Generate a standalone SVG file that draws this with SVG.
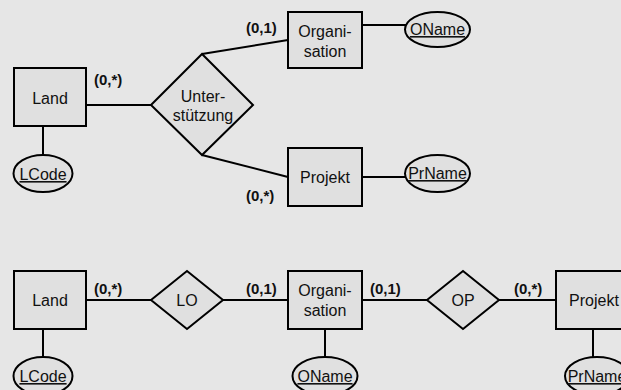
<svg xmlns="http://www.w3.org/2000/svg" width="621" height="390" viewBox="0 0 621 390">
<style>
.shape{fill:#e0e0e0;stroke:#000;stroke-width:2}
.conn line{stroke:#000;stroke-width:2}
text{font-family:"Liberation Sans",Arial,sans-serif;font-size:16px;fill:#111;text-anchor:middle}
.card{font-weight:bold;font-size:15px;text-anchor:start}
.key{text-decoration:underline}
</style>
<rect width="621" height="390" fill="#e6e6e6"/>
<g id="connectors" class="conn">
<line x1="43" y1="126" x2="43" y2="155"/>
<line x1="86" y1="105" x2="151" y2="105"/>
<line x1="202" y1="54" x2="288" y2="40"/>
<line x1="202" y1="155" x2="288" y2="177"/>
<line x1="362" y1="25" x2="406" y2="25"/>
<line x1="362" y1="177" x2="406" y2="177"/>
<line x1="43" y1="329" x2="43" y2="357"/>
<line x1="86" y1="300" x2="151" y2="300"/>
<line x1="223" y1="300" x2="288" y2="300"/>
<line x1="325" y1="329" x2="325" y2="357"/>
<line x1="362" y1="300" x2="427" y2="300"/>
<line x1="499" y1="300" x2="556" y2="300"/>
<line x1="593" y1="329" x2="593" y2="358"/>
</g>
<g id="land1"><rect class="shape" x="14" y="68" width="72" height="58"/><text x="50" y="104">Land</text></g>
<g id="lcode1"><ellipse class="shape" cx="43" cy="173.5" rx="29.5" ry="18.5"/><text class="key" x="43" y="180">LCode</text></g>
<g id="unterstuetzung"><polygon class="shape" points="151,105 202,54 253,105 202,155"/><text x="203" y="102">Unter-</text><text x="203" y="121">stützung</text></g>
<g id="org1"><rect class="shape" x="288" y="12" width="74" height="56"/><text x="325" y="37">Organi-</text><text x="325" y="57">sation</text></g>
<g id="oname1"><ellipse class="shape" cx="437.5" cy="29.5" rx="32.5" ry="17.5"/><text class="key" x="437.5" y="35">OName</text></g>
<g id="projekt1"><rect class="shape" x="288" y="148" width="74" height="58"/><text x="325" y="183">Projekt</text></g>
<g id="prname1"><ellipse class="shape" cx="437.5" cy="173.5" rx="32.5" ry="18.5"/><text class="key" x="437.5" y="179">PrName</text></g>
<text class="card" x="246" y="33">(0,1)</text>
<text class="card" x="94" y="85">(0,*)</text>
<text class="card" x="246" y="201">(0,*)</text>
<g id="land2"><rect class="shape" x="14" y="271" width="72" height="58"/><text x="50" y="306">Land</text></g>
<g id="lcode2"><ellipse class="shape" cx="43" cy="376" rx="29.5" ry="19"/><text class="key" x="43" y="382">LCode</text></g>
<g id="lo"><polygon class="shape" points="151,300 187,271 223,300 187,329"/><text x="187" y="306">LO</text></g>
<g id="org2"><rect class="shape" x="288" y="271" width="74" height="58"/><text x="325" y="296">Organi-</text><text x="325" y="316">sation</text></g>
<g id="oname2"><ellipse class="shape" cx="325" cy="376" rx="32.5" ry="19"/><text class="key" x="325" y="382">OName</text></g>
<g id="op"><polygon class="shape" points="427,300 463,271 499,300 463,329"/><text x="463" y="306">OP</text></g>
<g id="projekt2"><rect class="shape" x="556" y="271" width="76" height="58"/><text x="594" y="306">Projekt</text></g>
<g id="prname2"><ellipse class="shape" cx="597" cy="376" rx="32" ry="19"/><text class="key" x="597" y="382">PrName</text></g>
<text class="card" x="94" y="294">(0,*)</text>
<text class="card" x="246" y="294">(0,1)</text>
<text class="card" x="370" y="294">(0,1)</text>
<text class="card" x="514" y="294">(0,*)</text>
</svg>
